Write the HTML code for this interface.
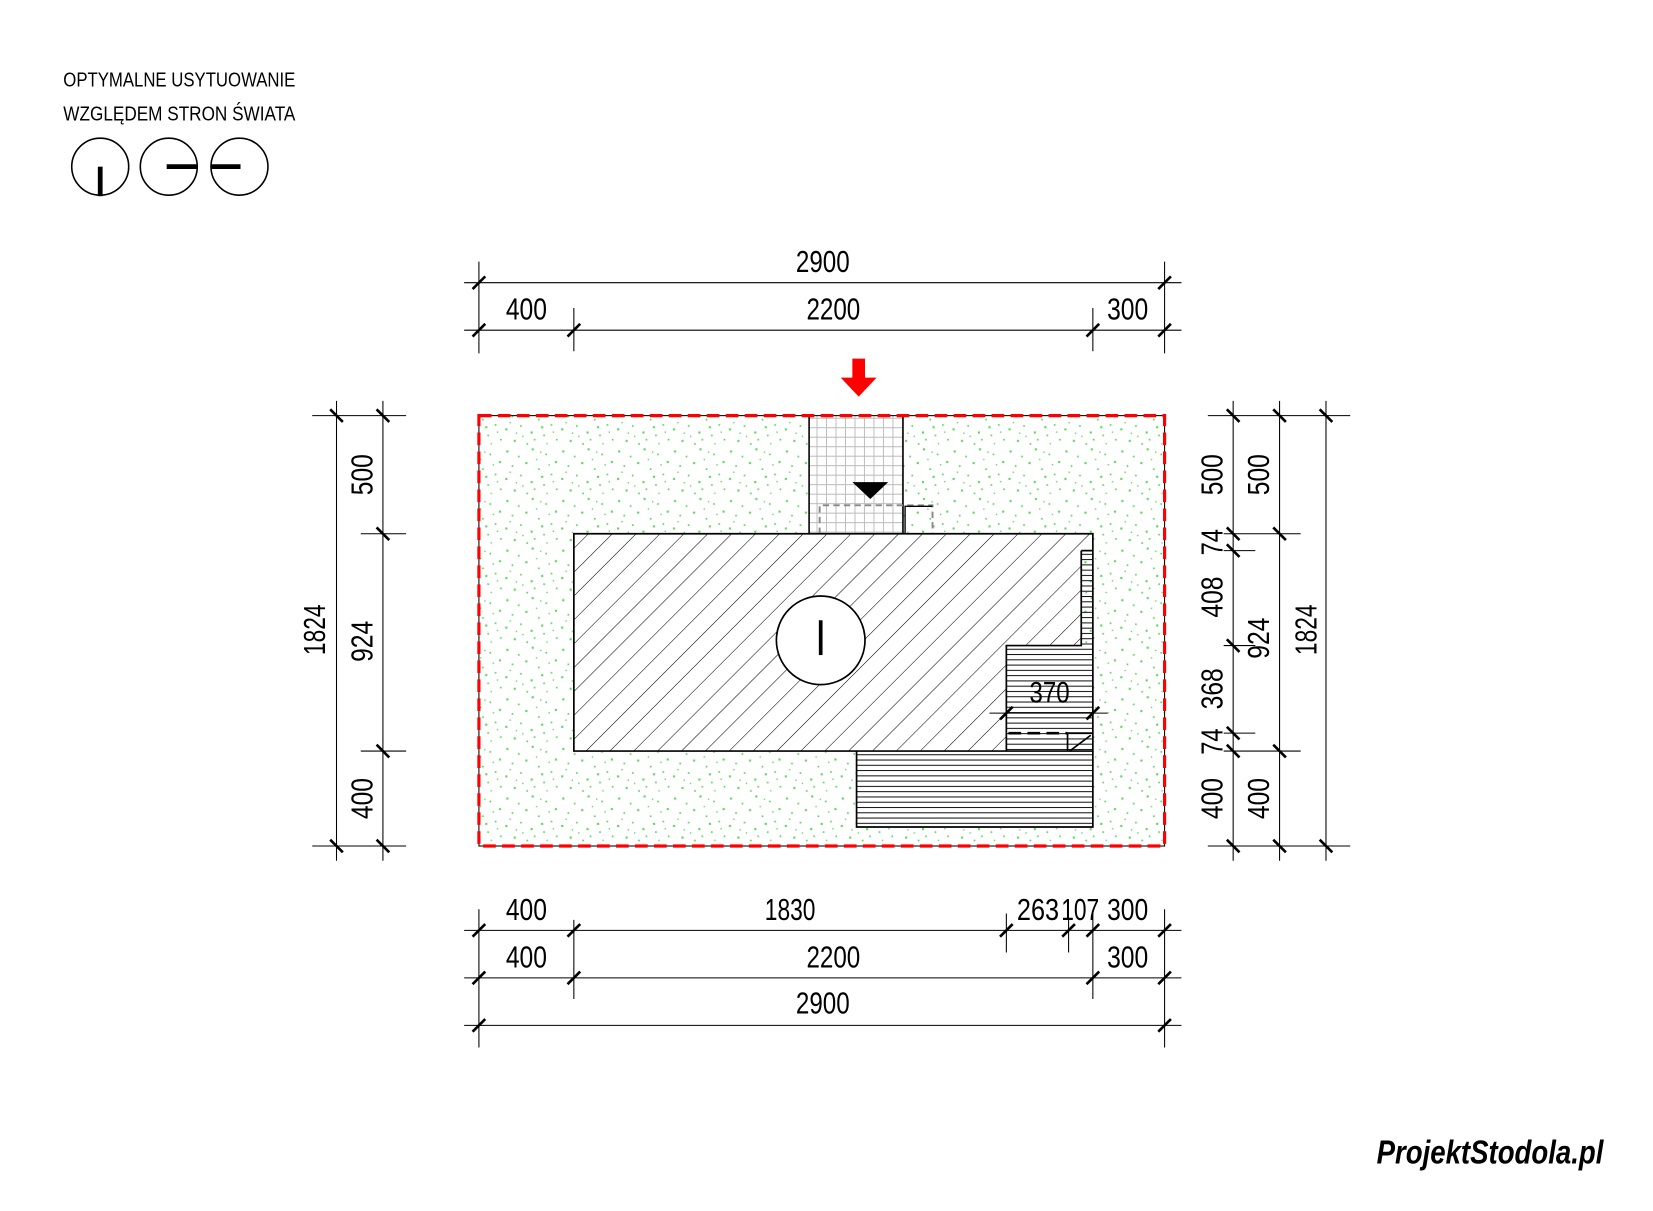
<!DOCTYPE html>
<html><head><meta charset="utf-8"><style>
html,body{margin:0;padding:0;background:#fff;}
svg{display:block}
text{font-family:"Liberation Sans Narrow","Liberation Sans",sans-serif;fill:#000}
</style></head><body>
<svg width="1653" height="1211" viewBox="0 0 1567 1148" xmlns="http://www.w3.org/2000/svg">
<defs>
<pattern id="dots" width="53" height="47" patternUnits="userSpaceOnUse">
<g fill="#5ad85a">
<rect x="3" y="4" width="2" height="2"/><rect x="14" y="9" width="1.6" height="1.6"/><rect x="27" y="2" width="2" height="2"/><rect x="40" y="7" width="1.6" height="1.6"/><rect x="49" y="14" width="2" height="2"/>
<rect x="8" y="18" width="1.6" height="1.6"/><rect x="21" y="15" width="2" height="2"/><rect x="33" y="21" width="1.6" height="1.6"/><rect x="45" y="26" width="1.6" height="1.6"/><rect x="2" y="30" width="2" height="2"/>
<rect x="16" y="27" width="1.6" height="1.6"/><rect x="26" y="33" width="2" height="2"/><rect x="38" y="36" width="1.6" height="1.6"/><rect x="50" y="40" width="1.6" height="1.6"/><rect x="10" y="41" width="2" height="2"/>
<rect x="22" y="44" width="1.6" height="1.6"/><rect x="31" y="12" width="1.3" height="1.3"/><rect x="6" y="24" width="1.3" height="1.3"/><rect x="43" y="17" width="1.3" height="1.3"/><rect x="18" y="37" width="1.3" height="1.3"/><rect x="36" y="28" width="2" height="2"/><rect x="47" y="33" width="1.3" height="1.3"/>
<rect x="29" y="40" width="1.6" height="1.6"/><rect x="12" y="34" width="1.3" height="1.3"/><rect x="41" y="44" width="1.3" height="1.3"/><rect x="35" y="5" width="1.3" height="1.3"/>
</g></pattern>
<pattern id="hatch" width="16" height="16" patternUnits="userSpaceOnUse" patternTransform="rotate(45)">
<line x1="0" y1="0" x2="0" y2="16" stroke="#000" stroke-width="1"/></pattern>
<pattern id="hl" width="10" height="5" patternUnits="userSpaceOnUse"><line x1="0" y1="0.5" x2="10" y2="0.5" stroke="#000" stroke-width="0.9"/></pattern>
<pattern id="grid" width="9" height="9" patternUnits="userSpaceOnUse"><path d="M0 0.5H9M0.5 0V9" stroke="#bbb" stroke-width="0.9" fill="none"/></pattern>
</defs>

<text x="60" y="82" font-size="19" textLength="220" lengthAdjust="spacingAndGlyphs">OPTYMALNE USYTUOWANIE</text>
<text x="60" y="114" font-size="19" textLength="220" lengthAdjust="spacingAndGlyphs">WZGLĘDEM STRON ŚWIATA</text>
<g fill="none" stroke="#000" stroke-width="1.5">
<circle cx="95" cy="158" r="27"/><circle cx="160" cy="158" r="27"/><circle cx="227" cy="158" r="27"/></g>
<g stroke="#000" stroke-width="4.5">
<line x1="95" y1="158" x2="95" y2="186"/><line x1="158" y1="158" x2="187" y2="158"/><line x1="200" y1="158" x2="228" y2="158"/></g>

<rect x="454" y="394" width="650" height="408" fill="url(#dots)"/>
<rect x="767" y="394" width="89" height="112" fill="#fff"/>
<rect x="767" y="394" width="89" height="112" fill="url(#grid)"/>
<line x1="767" y1="394" x2="767" y2="506" stroke="#000" stroke-width="1.5"/>
<line x1="856" y1="394" x2="856" y2="506" stroke="#000" stroke-width="1.5"/>
<polygon points="808,457 842,457 825,473" fill="#000"/>
<path d="M777 506V479H884V506" fill="none" stroke="#888" stroke-width="1.8" stroke-dasharray="6,4"/>
<path d="M858 506V480H884" fill="none" stroke="#000" stroke-width="1.3"/>

<path d="M544 506H1036V522H1025V612H954V712H544Z" fill="#fff"/>
<path d="M544 506H1036V522H1025V612H954V712H544Z" fill="url(#hatch)"/>
<rect x="1025" y="522" width="11" height="90" fill="url(#hl)"/>
<rect x="954" y="612" width="82" height="100" fill="#fff"/>
<rect x="954" y="612" width="82" height="100" fill="url(#hl)"/>
<rect x="812" y="712" width="224" height="72" fill="#fff"/>
<rect x="812" y="712" width="224" height="72" fill="url(#hl)"/>
<g fill="none" stroke="#000" stroke-width="1.6">
<path d="M544 506H1036V712H544Z"/>
<path d="M1025 522H1036M1025 522V612H954V712"/>
<path d="M812 712V784H1036V712"/>
<path d="M1012 695V712M1012 695H1036M1014 712L1034 697"/>
</g>
<path d="M956 695H1012" stroke="#000" stroke-width="2.5" stroke-dasharray="12,6"/>
<line x1="938" y1="676" x2="1050" y2="676" stroke="#000" stroke-width="1"/>
<g stroke="#000" stroke-width="2.5"><line x1="948" y1="682" x2="960" y2="670"/><line x1="1030" y1="682" x2="1042" y2="670"/></g>
<text x="995" y="666" font-size="28" text-anchor="middle" textLength="38" lengthAdjust="spacingAndGlyphs">370</text>
<circle cx="778" cy="607" r="42" fill="#fff" stroke="#000" stroke-width="1.6"/>
<line x1="778" y1="588" x2="778" y2="621" stroke="#000" stroke-width="3.5"/>

<rect x="454" y="394" width="650" height="408" fill="none" stroke="#000" stroke-width="1"/>
<rect x="454" y="394" width="650" height="408" fill="none" stroke="#f00" stroke-width="3" stroke-dasharray="12,6"/>

<polygon points="808,340 820,340 820,358 831,358 814,376 797,358 808,358" fill="#f00"/>

<g stroke="#000" stroke-width="1" fill="none">
<path d="M440 268H1120M440 313H1120M454 248V335M1104 248V335M544 292V333M1036 292V333"/>
<path d="M440 882H1120M440 927H1120M440 972H1120M454 862V993M1104 862V993M544 872V947M954 866V903M1013 872V903M1036 866V947"/>
<path d="M319 380V816M363 380V816M296 394H385M342 506H385M342 712H385M296 802H385"/>
<path d="M1169 380V816M1213 380V816M1257 380V816M1145 394H1280M1160 506H1233M1160 522H1190M1160 612H1190M1160 695H1190M1160 712H1233M1145 802H1280"/>
</g>
<g stroke="#000" stroke-width="2.5">
<path d="M448 274L460 262M1098 274L1110 262"/>
<path d="M448 319L460 307M538 319L550 307M1030 319L1042 307M1098 319L1110 307"/>
<path d="M448 888L460 876M538 888L550 876M948 888L960 876M1007 888L1019 876M1030 888L1042 876M1098 888L1110 876"/>
<path d="M448 933L460 921M538 933L550 921M1030 933L1042 921M1098 933L1110 921"/>
<path d="M448 978L460 966M1098 978L1110 966"/>
<path d="M313 388L325 400M313 796L325 808"/>
<path d="M357 388L369 400M357 500L369 512M357 706L369 718M357 796L369 808"/>
<path d="M1163 388L1175 400M1163 500L1175 512M1163 516L1175 528M1163 606L1175 618M1163 689L1175 701M1163 706L1175 718M1163 796L1175 808"/>
<path d="M1207 388L1219 400M1207 500L1219 512M1207 706L1219 718M1207 796L1219 808"/>
<path d="M1251 388L1263 400M1251 796L1263 808"/>
</g>
<g font-size="29" text-anchor="middle" lengthAdjust="spacingAndGlyphs">
<text x="780" y="258" textLength="51" lengthAdjust="spacingAndGlyphs">2900</text>
<text x="499" y="303" textLength="39" lengthAdjust="spacingAndGlyphs">400</text><text x="790" y="303" textLength="51" lengthAdjust="spacingAndGlyphs">2200</text><text x="1069" y="303" textLength="39" lengthAdjust="spacingAndGlyphs">300</text>
<text x="499" y="872" textLength="39" lengthAdjust="spacingAndGlyphs">400</text><text x="749" y="872" textLength="48" lengthAdjust="spacingAndGlyphs">1830</text><text x="984" y="872" textLength="40" lengthAdjust="spacingAndGlyphs">263</text><text x="1024" y="872" textLength="36" lengthAdjust="spacingAndGlyphs">107</text><text x="1069" y="872" textLength="39" lengthAdjust="spacingAndGlyphs">300</text>
<text x="499" y="917" textLength="39" lengthAdjust="spacingAndGlyphs">400</text><text x="790" y="917" textLength="51" lengthAdjust="spacingAndGlyphs">2200</text><text x="1069" y="917" textLength="39" lengthAdjust="spacingAndGlyphs">300</text>
<text x="780" y="961" textLength="51" lengthAdjust="spacingAndGlyphs">2900</text>
<g transform="rotate(-90)">
<text x="-597" y="308" textLength="48" lengthAdjust="spacingAndGlyphs">1824</text>
<text x="-450" y="353" textLength="39" lengthAdjust="spacingAndGlyphs">500</text><text x="-608" y="353" textLength="39" lengthAdjust="spacingAndGlyphs">924</text><text x="-757" y="353" textLength="39" lengthAdjust="spacingAndGlyphs">400</text>
<text x="-450" y="1159" textLength="39" lengthAdjust="spacingAndGlyphs">500</text><text x="-514" y="1159" textLength="25" lengthAdjust="spacingAndGlyphs">74</text><text x="-566" y="1159" textLength="39" lengthAdjust="spacingAndGlyphs">408</text><text x="-653" y="1159" textLength="39" lengthAdjust="spacingAndGlyphs">368</text><text x="-703" y="1159" textLength="25" lengthAdjust="spacingAndGlyphs">74</text><text x="-757" y="1159" textLength="39" lengthAdjust="spacingAndGlyphs">400</text>
<text x="-450" y="1203" textLength="39" lengthAdjust="spacingAndGlyphs">500</text><text x="-605" y="1203" textLength="39" lengthAdjust="spacingAndGlyphs">924</text><text x="-757" y="1203" textLength="39" lengthAdjust="spacingAndGlyphs">400</text>
<text x="-597" y="1248" textLength="48" lengthAdjust="spacingAndGlyphs">1824</text>
</g>
</g>

<text x="1305" y="1103" font-family="Liberation Serif,serif" font-style="italic" font-weight="bold" font-size="32" textLength="215" lengthAdjust="spacingAndGlyphs">ProjektStodola.pl</text>
</svg>
</body></html>
